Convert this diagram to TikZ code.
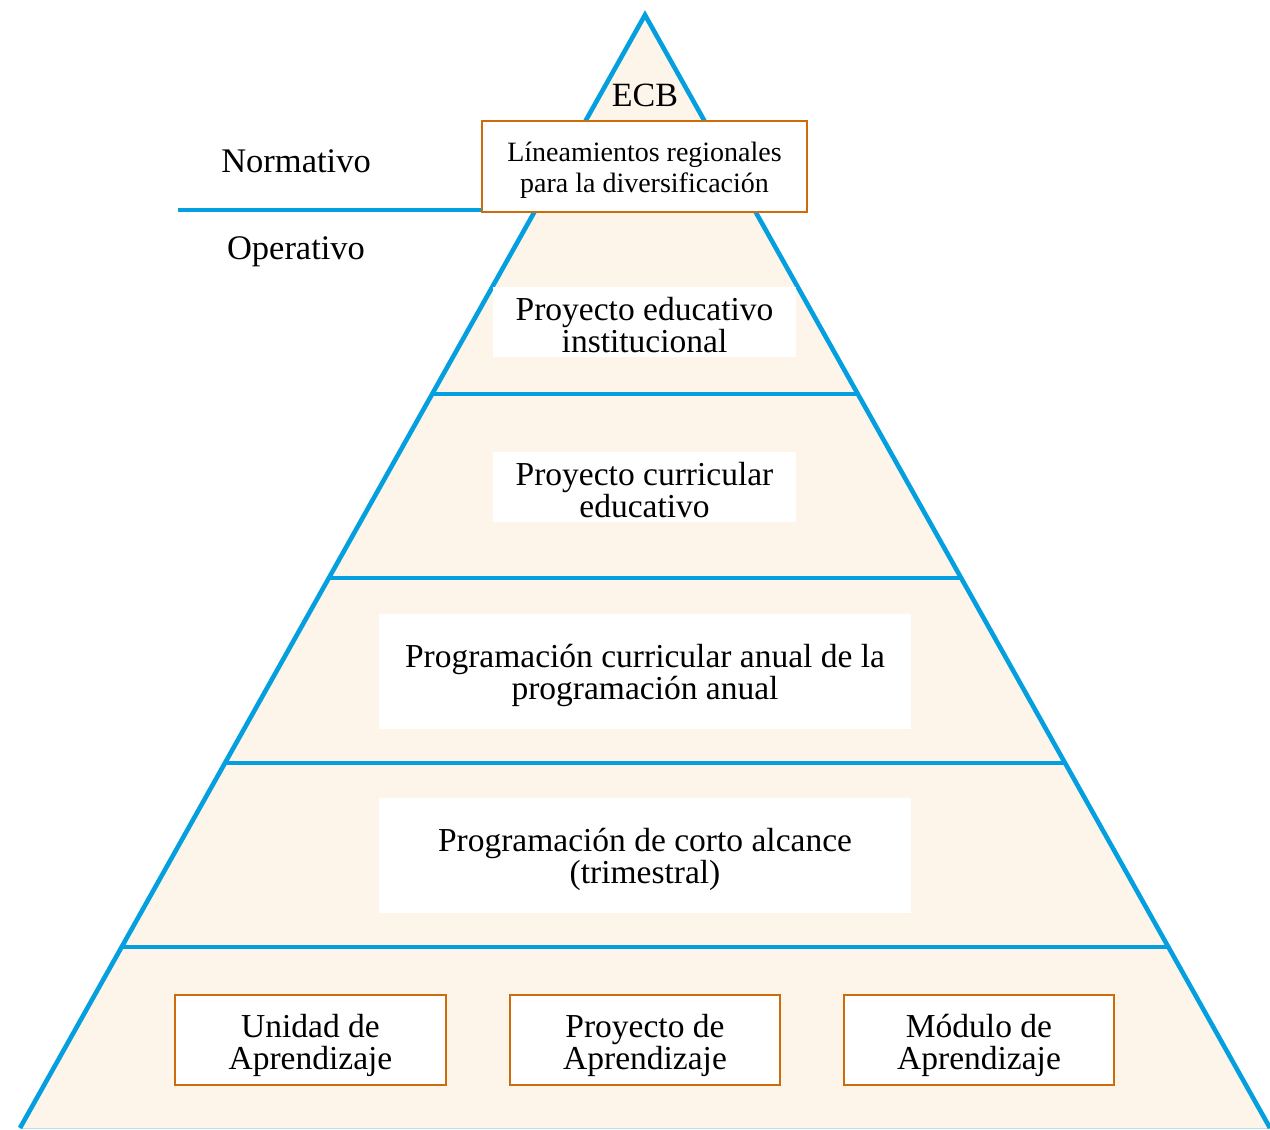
\documentclass[tikz,border=0pt]{standalone}
\usepackage{fontspec}
\setmainfont{Liberation Serif}
\usetikzlibrary{calc}
\definecolor{pblue}{HTML}{049FDE}
\definecolor{porange}{HTML}{CC6C0A}
\definecolor{pcream}{HTML}{FEF5EA}
\begin{document}
\begin{tikzpicture}[x=1pt,y=-1pt,
  tier/.style={draw=pblue,line width=4.6pt},
  wbox/.style={fill=white,inner sep=0pt},
  obox/.style={draw=porange,line width=2.8pt,fill=white,inner sep=0pt},
  txt/.style={inner sep=0pt,align=center,font=\fontsize{33.5}{32}\selectfont},
  lbl/.style={inner sep=0pt,anchor=base,font=\fontsize{34.5}{36}\selectfont}]
\useasboundingbox (0,0) rectangle (1270,1130);
\coordinate (apex) at (645,15);
\coordinate (bl) at (20,1128);
\coordinate (br) at (1270,1128);
% pyramid body
\fill[pcream] (apex) -- (bl) -- (br) -- cycle;
\draw[pblue!30,line width=1pt] (bl) -- (br);
% tier lines
\foreach \t in {0.3405,0.5058,0.6721,0.8374}
  \draw[tier] ($(apex)!\t!(bl)$) -- ($(apex)!\t!(br)$);
\draw[tier,line join=miter] (bl) -- (apex) -- (br);
% top
\node[inner sep=0pt,anchor=base,font=\fontsize{34}{34}\selectfont] (ecb) at (645,106) {ECB};
\node[obox,minimum width=325pt,minimum height=91pt] (lin) at (644.5,166.5) {};
\node[txt,font=\fontsize{28}{31}\selectfont] (lintxt) at ($(lin.center)+(0,4)$)
  {Líneamientos regionales\\para la diversificación};
\coordinate (nl) at (178,210);
\draw[tier] (nl) -- (nl -| lin.west);
\node[lbl] (norm) at (296,172) {Normativo};
\node[lbl] (oper) at (296,259) {Operativo};
% tiers
\node[wbox,minimum width=303pt,minimum height=70pt] (pei) at (644.5,322) {};
\node[txt] (peitxt) at ($(pei.center)+(0,3)$) {Proyecto educativo\\institucional};
\node[wbox,minimum width=303pt,minimum height=70pt] (pce) at (644.5,487) {};
\node[txt] (pcetxt) at ($(pce.center)+(0,3)$) {Proyecto curricular\\educativo};
\node[wbox,minimum width=532pt,minimum height=115pt] (pca) at (645,671.5) {};
\node[txt] (pcatxt) at ($(pca.center)+(0,4)$) {Programación curricular anual de la\\programación anual};
\node[wbox,minimum width=532pt,minimum height=115pt] (pcl) at (645,855.5) {};
\node[txt] (pcltxt) at ($(pcl.center)+(0,4)$) {Programación de corto alcance\\(trimestral)};
% bottom boxes
\node[obox,minimum width=271pt,minimum height=90pt] (ua) at (310.5,1040) {};
\node[txt] (uatxt) at ($(ua.center)+(0,5)$) {Unidad de\\Aprendizaje};
\node[obox,minimum width=270pt,minimum height=90pt] (pa) at (645,1040) {};
\node[txt] (patxt) at ($(pa.center)+(0,5)$) {Proyecto de\\Aprendizaje};
\node[obox,minimum width=270pt,minimum height=90pt] (ma) at (979,1040) {};
\node[txt] (matxt) at ($(ma.center)+(0,5)$) {Módulo de\\Aprendizaje};
\end{tikzpicture}
\end{document}
